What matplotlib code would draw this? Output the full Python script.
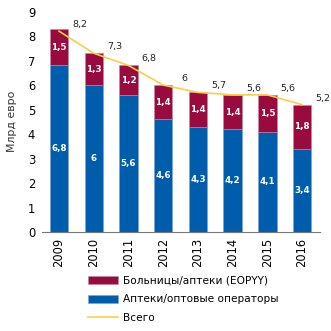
import numpy as np
import matplotlib.pyplot as plt
from matplotlib.patches import Patch
from matplotlib.lines import Line2D

years = ["2009", "2010", "2011", "2012", "2013", "2014", "2015", "2016"]
pharmacies = [6.8, 6.0, 5.6, 4.6, 4.3, 4.2, 4.1, 3.4]
hospitals = [1.5, 1.3, 1.2, 1.4, 1.4, 1.4, 1.5, 1.8]
totals = [8.2, 7.3, 6.8, 6.0, 5.7, 5.6, 5.6, 5.2]

blue = "#005DAB"
maroon = "#990A3F"
yellow = "#F9CF48"


def fmt(v):
    s = f"{v:g}"
    return s.replace(".", ",")


fig = plt.figure(figsize=(3.31, 3.31), dpi=100)
ax = fig.add_axes([0.127, 0.299, 0.84, 0.666])

x = np.arange(len(years))
w = 0.53
ax.bar(x, pharmacies, w, color=blue, edgecolor="#7f9fd0", linewidth=0.4)
ax.bar(x, hospitals, w, bottom=pharmacies, color=maroon, edgecolor="#c08aa0", linewidth=0.4)
ax.plot(x, totals, color=yellow, lw=1.2)

for i in range(len(years)):
    ax.text(x[i], pharmacies[i] / 2, fmt(pharmacies[i]), ha="center", va="center",
            color="white", fontsize=6.3, fontweight="bold")
    ax.text(x[i], pharmacies[i] + hospitals[i] / 2, fmt(hospitals[i]), ha="center",
            va="center", color="white", fontsize=6.3, fontweight="bold")
    ax.text(x[i] + 0.6, totals[i] + 0.27, fmt(totals[i]), ha="center", va="center",
            color="#222222", fontsize=6.8)

ax.set_xlim(-0.49, 7.52)
ax.set_ylim(0, 9)
ax.set_yticks(range(10))
ax.set_xticks(x)
ax.set_xticklabels(years, rotation=90, fontsize=8.3)
ax.tick_params(axis="y", length=0, labelsize=8.3, pad=5)
ax.tick_params(axis="x", length=0, pad=4)
for s in ["top", "right", "left"]:
    ax.spines[s].set_visible(False)
ax.spines["bottom"].set_color("#777777")
ax.spines["bottom"].set_linewidth(0.8)
ax.set_ylabel("Млрд евро", fontsize=7.8, color="#333333", labelpad=8)

handles = [Patch(facecolor=maroon, edgecolor="#c08aa0", linewidth=0.4),
           Patch(facecolor=blue, edgecolor="#7f9fd0", linewidth=0.4),
           Line2D([0], [0], color=yellow, lw=1.2)]
labels = ["Больницы/аптеки (ЕОРYY)", "Аптеки/оптовые операторы", "Всего"]
fig.legend(handles, labels, loc="upper left", bbox_to_anchor=(0.265, 0.168),
           frameon=False, fontsize=7.6, handlelength=2.9, handleheight=0.85,
           handletextpad=0.4, labelspacing=0.85, borderpad=0, borderaxespad=0)

fig.savefig("out.png", dpi=100)
